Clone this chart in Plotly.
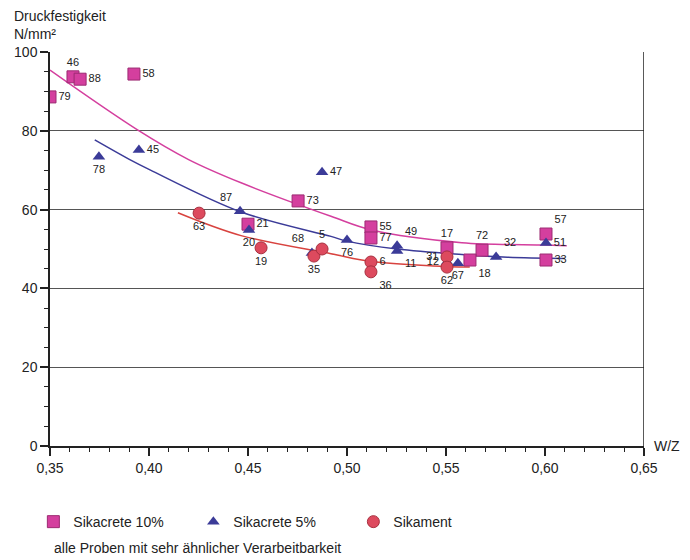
import plotly.graph_objects as go

# ---- data ----
sq_x = [0.35, 0.3616, 0.3652, 0.3924, 0.4753, 0.5121, 0.5121, 0.45, 0.5505, 0.5682, 0.5621, 0.6005, 0.6005]
sq_y = [88.6, 93.7, 93.1, 94.4, 62.2, 55.6, 52.8, 56.3, 50.3, 49.7, 47.2, 53.8, 47.2]
sq_lab = ["79", "46", "88", "58", "73", "55", "77", "21", "17", "72", "18", "57", "33"]
sq_pos = ["middle right", "top center", "middle right", "middle right", "middle right", "middle right",
          "middle right", "middle right", "top center", "top center", "bottom right", "top right", "middle right"]

tr_x = [0.3747, 0.3949, 0.4874, 0.446, 0.4505, 0.4823, 0.50, 0.5253, 0.5253, 0.5505, 0.556, 0.5753, 0.6005]
tr_y = [73.4, 75.1, 69.5, 59.6, 54.8, 49.0, 52.3, 50.8, 49.5, 46.7, 46.4, 48.0, 51.5]
tr_lab = ["78", "45", "47", "87", "20", "68", "76", "49", "11", "12", "67", "32", "51"]
tr_pos = ["bottom center", "middle right", "middle right", "top left", "bottom center", "top left",
          "bottom center", "top right", "bottom right", "middle left", "bottom center", "top right", "middle right"]

ci_x = [0.4253, 0.4566, 0.4833, 0.4874, 0.5121, 0.5121, 0.5505, 0.5505]
ci_y = [59.1, 50.3, 48.2, 50.0, 46.7, 44.2, 48.0, 45.4]
ci_lab = ["63", "19", "35", "5", "6", "36", "31", "62"]
ci_pos = ["bottom center", "bottom center", "bottom center", "top center", "middle right", "bottom right",
          "middle left", "bottom center"]

# trend curves
cm_x = [0.35, 0.394, 0.42, 0.4465, 0.4919, 0.5126, 0.558, 0.60, 0.611]
cm_y = [95.4, 80.3, 72.7, 66.8, 58.3, 54.8, 51.6, 51.0, 50.8]
cb_x = [0.3726, 0.3903, 0.4005, 0.4465, 0.4919, 0.50, 0.5253, 0.558, 0.581, 0.61]
cb_y = [77.7, 72.7, 70.1, 59.4, 53.2, 52.0, 50.0, 48.6, 47.9, 47.6]
cr_x = [0.4146, 0.4465, 0.4919, 0.5126, 0.5435, 0.562]
cr_y = [59.2, 53.4, 48.8, 46.8, 45.7, 45.4]

x_ticks = [0.35, 0.40, 0.45, 0.50, 0.55, 0.60, 0.65]
y_ticks = [0, 20, 40, 60, 80, 100]

MAG = "#d43f9e"
BLU = "#3b3b98"
RED = "#dd4a5e"
FONT = "Liberation Sans, Arial, sans-serif"

fig = go.Figure()
fig.add_trace(go.Scatter(x=cm_x, y=cm_y, mode="lines", line=dict(color=MAG, width=1.5, shape="spline"),
                         showlegend=False, hoverinfo="skip"))
fig.add_trace(go.Scatter(x=cb_x, y=cb_y, mode="lines", line=dict(color=BLU, width=1.5, shape="spline"),
                         showlegend=False, hoverinfo="skip"))
fig.add_trace(go.Scatter(x=cr_x, y=cr_y, mode="lines", line=dict(color="#d8433f", width=1.5, shape="spline"),
                         showlegend=False, hoverinfo="skip"))

fig.add_trace(go.Scatter(x=sq_x, y=sq_y, mode="markers+text", name="Sikacrete 10%",
                         text=sq_lab, textposition=sq_pos, textfont=dict(size=11, color="#222"),
                         marker=dict(symbol="square", size=12, color=MAG, line=dict(color="#9c2a72", width=1))))
fig.add_trace(go.Scatter(x=tr_x, y=tr_y, mode="markers+text", name="Sikacrete 5%",
                         text=tr_lab, textposition=tr_pos, textfont=dict(size=11, color="#222"),
                         marker=dict(symbol="triangle-up", size=11, color=BLU, line=dict(color=BLU, width=0))))
fig.add_trace(go.Scatter(x=ci_x, y=ci_y, mode="markers+text", name="Sikament",
                         text=ci_lab, textposition=ci_pos, textfont=dict(size=11, color="#222"),
                         marker=dict(symbol="circle", size=12, color=RED, line=dict(color="#a8303f", width=1))))

fig.update_layout(
    width=690, height=560,
    margin=dict(l=50, r=46, t=52, b=114),
    paper_bgcolor="white", plot_bgcolor="white",
    separators=",.",
    font=dict(family=FONT, size=14, color="#222"),
    legend=dict(orientation="h", x=-0.028, xanchor="left", y=-0.193, yanchor="middle",
                entrywidth=115, entrywidthmode="pixels", font=dict(size=14), itemclick=False),
    xaxis=dict(range=[0.35, 0.65], tickvals=x_ticks, tickformat=".2f", showgrid=False,
               showline=True, linecolor="#222", linewidth=1.5, ticks="outside", ticklen=8, tickwidth=1.5,
               tickcolor="#222", zeroline=False,
               minor=dict(dtick=0.01, ticks="outside", ticklen=4, tickcolor="#222", tickwidth=1.2, showgrid=False)),
    yaxis=dict(range=[0, 100], tickvals=y_ticks, showgrid=True, gridcolor="#555", gridwidth=1,
               showline=True, linecolor="#222", linewidth=1.5, ticks="outside", ticklen=8, tickwidth=1.5,
               tickcolor="#222", zeroline=False,
               minor=dict(dtick=5, ticks="outside", ticklen=4, tickcolor="#222", tickwidth=1.2, showgrid=False)),
    shapes=[dict(type="line", xref="x", yref="y", x0=0.65, x1=0.65, y0=0, y1=100,
                 line=dict(color="#222", width=1.5))],
    annotations=[
        dict(text="Druckfestigkeit<br>N/mm²", xref="paper", yref="paper", x=-0.064, y=1.117,
             xanchor="left", yanchor="top", showarrow=False, align="left", font=dict(size=14)),
        dict(text="W/Z", xref="paper", yref="y", x=1.013, y=0, xanchor="left", yanchor="middle",
             showarrow=False, font=dict(size=14)),
        dict(text="alle Proben mit sehr ähnlicher Verarbeitbarkeit", xref="paper", yref="paper",
             x=0.003, y=-0.259, xanchor="left", yanchor="middle", showarrow=False, font=dict(size=14)),
    ],
)

fig.write_html("out.html", config={"displayModeBar": False},
               post_script="document.body.style.margin='0';document.body.style.padding='0';")
